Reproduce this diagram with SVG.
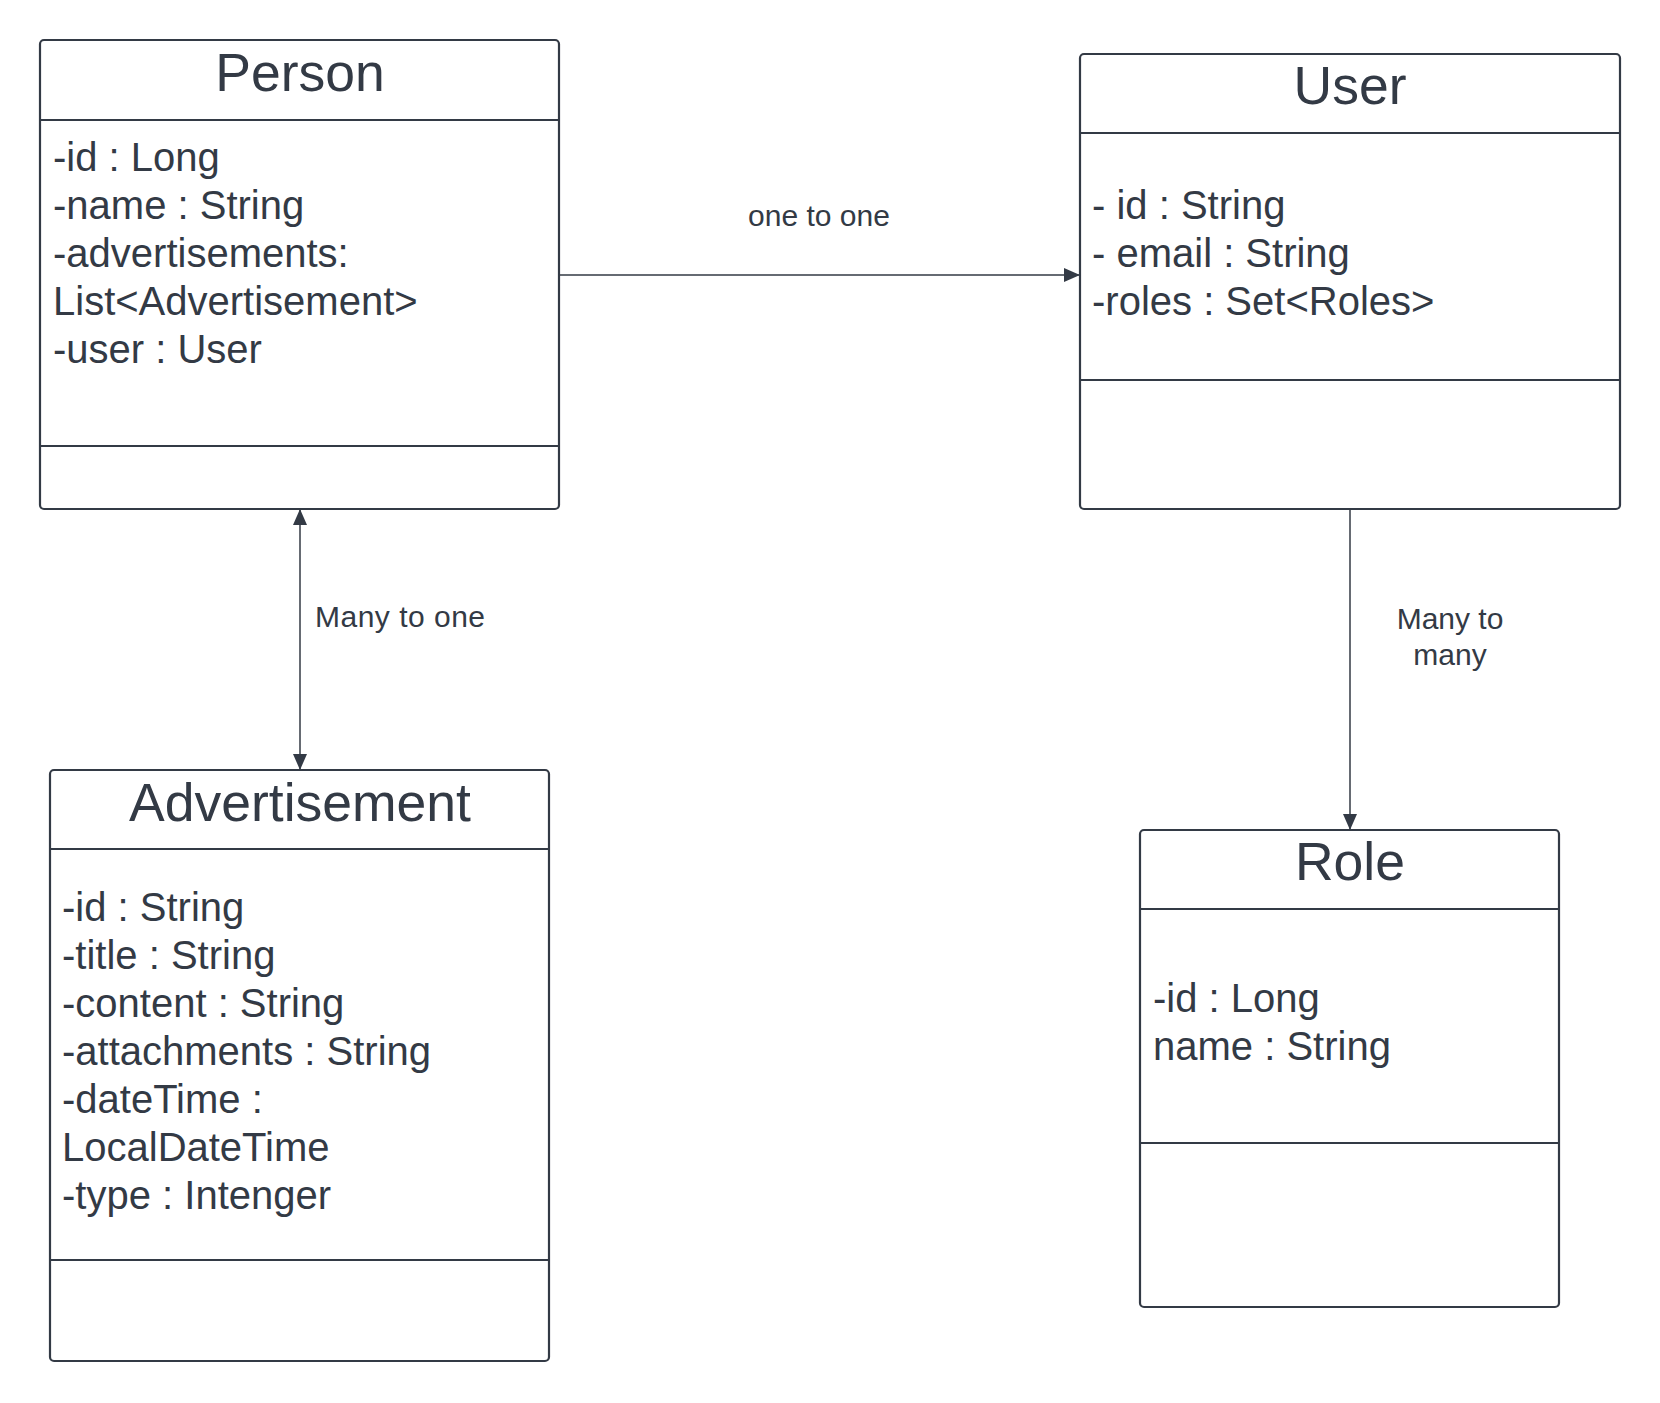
<svg xmlns="http://www.w3.org/2000/svg" width="1660" height="1403" viewBox="0 0 1660 1403">
<style>
.box{fill:#ffffff;stroke:#333a45;stroke-width:2.2}
.sep{stroke:#333a45;stroke-width:2.2}
.title{font-family:"Liberation Sans",Arial,sans-serif;font-size:53.5px;fill:#333a45;text-anchor:middle}
.attr{font-family:"Liberation Sans",Arial,sans-serif;font-size:40px;fill:#333a45}
.lbl{font-family:"Liberation Sans",Arial,sans-serif;font-size:30px;fill:#333a45}
.conn{stroke:#333a45;stroke-width:1.5;fill:none}
</style>
<defs>
<marker id="arr" viewBox="0 0 16 14" refX="16" refY="7" markerWidth="16" markerHeight="14" markerUnits="userSpaceOnUse" orient="auto-start-reverse">
<path d="M0,0 L16,7 L0,14 Z" fill="#333a45"/>
</marker>
</defs>
<rect width="1660" height="1403" fill="#ffffff"/>
<g id="connectors">
<line class="conn" x1="559" y1="275" x2="1080" y2="275" marker-end="url(#arr)"/>
<text class="lbl" x="819" y="226" text-anchor="middle">one to one</text>
<line class="conn" x1="300" y1="509" x2="300" y2="770" marker-start="url(#arr)" marker-end="url(#arr)"/>
<text class="lbl" x="315" y="627" textLength="170">Many to one</text>
<line class="conn" x1="1350" y1="509" x2="1350" y2="830" marker-end="url(#arr)"/>
<text class="lbl" x="1450" y="629" text-anchor="middle">Many to</text>
<text class="lbl" x="1450" y="665" text-anchor="middle">many</text>
</g>
<g id="person">
<rect class="box" x="40" y="40" width="519" height="469" rx="4"/>
<line class="sep" x1="40" y1="120" x2="559" y2="120"/>
<line class="sep" x1="40" y1="446" x2="559" y2="446"/>
<text class="title" x="300" y="91">Person</text>
<text class="attr" x="53" y="171">-id : Long</text>
<text class="attr" x="53" y="219">-name : String</text>
<text class="attr" x="53" y="267">-advertisements:</text>
<text class="attr" x="53" y="315">List&lt;Advertisement&gt;</text>
<text class="attr" x="53" y="363">-user : User</text>
</g>
<g id="user">
<rect class="box" x="1080" y="54" width="540" height="455" rx="4"/>
<line class="sep" x1="1080" y1="133" x2="1620" y2="133"/>
<line class="sep" x1="1080" y1="380" x2="1620" y2="380"/>
<text class="title" x="1350" y="104">User</text>
<text class="attr" x="1092" y="219">- id : String</text>
<text class="attr" x="1092" y="267">- email : String</text>
<text class="attr" x="1092" y="315">-roles : Set&lt;Roles&gt;</text>
</g>
<g id="advertisement">
<rect class="box" x="50" y="770" width="499" height="591" rx="4"/>
<line class="sep" x1="50" y1="849" x2="549" y2="849"/>
<line class="sep" x1="50" y1="1260" x2="549" y2="1260"/>
<text class="title" x="300" y="821">Advertisement</text>
<text class="attr" x="62" y="921">-id : String</text>
<text class="attr" x="62" y="969">-title : String</text>
<text class="attr" x="62" y="1017">-content : String</text>
<text class="attr" x="62" y="1065">-attachments : String</text>
<text class="attr" x="62" y="1113">-dateTime :</text>
<text class="attr" x="62" y="1161">LocalDateTime</text>
<text class="attr" x="62" y="1209">-type : Intenger</text>
</g>
<g id="role">
<rect class="box" x="1140" y="830" width="419" height="477" rx="4"/>
<line class="sep" x1="1140" y1="909" x2="1559" y2="909"/>
<line class="sep" x1="1140" y1="1143" x2="1559" y2="1143"/>
<text class="title" x="1350" y="880">Role</text>
<text class="attr" x="1153" y="1012">-id : Long</text>
<text class="attr" x="1153" y="1060">name : String</text>
</g>
</svg>
